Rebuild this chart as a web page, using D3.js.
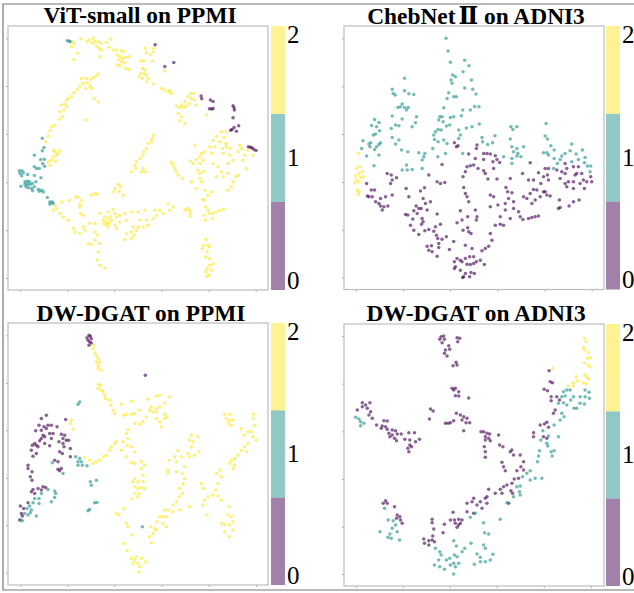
<!DOCTYPE html>
<html>
<head>
<meta charset="utf-8">
<script src="https://cdn.jsdelivr.net/npm/d3@7"></script>
<style>
  body { margin: 0; background: #fff; }
  svg { display: block; }
  text { font-family: "Liberation Serif", serif; fill: #000; }
</style>
</head>
<body>
<svg id="chart" width="634" height="593"></svg>
<script>
// class colours and colorbar
const classColors = ["#440154", "#21918c", "#fde725"];
const barLevels = [0, 1, 2];
const barLabelPos = [0.11, 1.5, 2.9];

// ViT-small on PPMI (embedding values)
const vit0 = [[495,199],[522,187],[604,288],[606,296],[632,300],[640,304],[629,326],[640,325],[636,327],[700,317],[703,323],[704,330],[700,353],[717,377],[703,382],[693,390],[697,388],[710,393],[746,440],[752,441],[757,443],[762,447],[769,451],[466,134]];
const vit1 = [[202,122],[208,124],[212,125],[127,414],[132,442],[127,452],[103,465],[122,478],[133,477],[128,490],[118,505],[110,505],[103,500],[134,498],[103,526],[123,533],[58,512],[66,512],[60,520],[70,518],[65,527],[83,523],[75,545],[82,543],[88,545],[75,552],[82,552],[90,553],[97,550],[63,558],[78,560],[85,563],[95,565],[103,560],[115,567],[125,570],[130,575],[118,573],[98,572],[108,545],[142,592],[150,605],[157,605],[150,612],[160,610]];
const vit2 = [[218,125],[222,130],[215,140],[233,160],[222,178],[243,116],[262,125],[268,120],[280,115],[285,125],[277,130],[295,125],[303,130],[290,138],[298,145],[305,150],[300,170],[320,127],[332,118],[327,142],[340,150],[350,150],[365,152],[372,155],[352,165],[360,170],[368,175],[378,172],[388,170],[355,180],[365,185],[375,188],[352,195],[360,198],[378,205],[388,208],
[437,145],[440,158],[462,145],[460,155],[452,165],[423,183],[432,182],[457,183],[495,213],[428,205],[435,210],[422,220],[432,220],[440,225],[418,230],[428,235],[445,235],[440,245],[460,252],[485,265],[495,270],[505,275],[515,280],[510,272],
[295,222],[288,228],[280,232],[272,238],[260,235],[245,235],[250,250],[262,248],[270,258],[258,265],[275,265],[240,258],[232,268],[222,278],[215,290],[205,295],[200,300],[195,312],[185,315],[200,320],[192,330],[180,335],[188,350],[178,357],[283,295],[295,305],[257,360],[165,375],[155,380],[150,392],[145,408],[138,425],
[572,280],[582,280],[565,290],[575,295],[585,300],[555,305],[570,310],[545,315],[530,318],[540,322],[552,322],[560,318],[590,315],[620,345],[535,340],[545,350],[540,362],[555,370],
[180,452],[165,455],[175,460],[170,465],[160,470],[155,480],[168,483],[145,485],[150,495],[160,450],
[462,405],[458,415],[455,425],[445,430],[440,445],[432,455],[428,465],[420,475],[410,485],[405,495],[408,505],[395,515],[430,505],[425,515],[438,515],[515,487],[520,495],[525,505],[530,515],[535,525],[548,535],
[665,395],[680,395],[650,408],[672,412],[640,420],[660,425],[678,430],[585,435],[615,455],[630,440],[645,440],[668,445],[680,440],[690,445],[720,435],[725,445],[745,450],[635,460],[605,460],[600,470],[590,478],[572,483],[580,490],[600,490],[610,480],[670,460],[690,465],[715,455],[735,465],[760,465],[730,480],[595,510],[600,520],[612,515],[640,490],[655,500],[685,490],[700,480],[740,505],[665,515],[685,520],[710,530],[715,525],[575,545],[590,565],[605,545],[600,535],[670,530],[650,530],[700,545],[695,560],[685,570],[615,570],[625,585],[635,575],[608,597],
[615,600],[618,620],[625,630],[628,640],[613,645],[640,640],[650,635],[660,630],[672,628],[638,655],[617,660],[562,625],[570,630],[555,630],[572,640],[570,648],
[618,718],[612,735],[625,735],[607,745],[622,755],[630,740],[618,770],[630,775],[640,790],[630,795],[622,805],[635,810],[618,815],[628,825],[622,828],
[355,552],[362,558],[345,565],[342,575],[358,573],[370,585],[285,580],[292,582],[275,585],[235,590],[245,600],[228,590],[208,600],[185,605],[165,615],[170,625],[160,630],[180,640],[190,650],[205,660],[220,685],[225,695],[240,612],[242,640],[250,645],[240,620],
[300,640],[325,635],[340,628],[345,640],[315,650],[310,660],[325,655],[335,660],[350,650],[360,645],[375,640],[395,635],[415,635],[435,630],[312,672],[325,680],[345,675],[360,665],[380,660],[400,680],[415,680],[430,680],[445,675],[460,655],[470,645],[480,630],[490,640],[505,610],[520,620],[510,630],[465,630],[440,660],[420,660],[410,690],[395,695],[380,700],[402,705],[375,718],[395,715],[350,685],[270,670],[285,670],[250,680],[255,690],[285,695],[240,700],[292,705],[285,720],[265,730],[275,733],[300,730],[295,755],[292,780],[300,795],[315,803],[318,665],[328,668],[322,672],[332,648]];

// ChebNet II on ADNI3
const cheb0 = [[412,428],[423,437],[418,440],[480,435],[478,445],[455,462],[375,493],[500,460],[510,460],[520,462],[535,467],[540,478],[528,485],[548,487],[475,475],[500,478],[470,495],[460,497],[450,500],[445,515],[438,530],[440,562],[483,505],[500,512],[505,520],[530,505],[513,537],[540,537],[580,535],[640,488],[617,520],[635,540],[210,520],[222,525],[238,533],[225,540],[220,550],[148,550],[360,545],[370,550],[383,547],[335,525],[267,565],[322,563],[310,573],[162,570],[172,570],[150,588],[155,590],[165,590],[175,605],[185,610],[190,618],[200,620],[212,618],[195,630],[205,590],[190,595],[225,585],[275,590],[297,618],[305,625],[318,595],[325,610],[340,605],[330,630],[312,625],[290,632],[300,640],[265,643],[272,645],[287,657],[315,655],[318,665],[313,672],[280,675],[290,690],[305,703],[323,692],[335,688],[360,642],[370,672],[355,680],[350,693],[358,705],[362,715],[375,717],[388,710],[410,724],[330,738],[343,737],[335,750],[345,755],[365,730],[365,742],[360,768],[397,748],[430,632],[475,630],[452,650],[435,660],[420,668],[480,650],[478,660],[438,690],[452,683],[455,695],[462,700],[445,735],[465,745],[420,775],[412,785],[430,780],[415,800],[412,805],[435,785],[445,775],[458,770],[470,770],[478,785],[490,780],[502,793],[450,792],[460,793],[470,790],[430,810],[445,820],[462,817],[472,820],[458,830],[440,830],[437,832],[455,605],[450,590],[445,580],[520,585],[530,590],[520,620],[543,615],[567,562],[572,575],[585,578],[575,595],[565,610],[590,605],[590,625],[605,635],[565,630],[550,650],[580,655],[610,650],[618,658],[635,655],[645,652],[655,650],[665,648],[535,675],[550,672],[560,675],[520,700],[525,720],[515,738],[505,745],[495,752],[620,590],[630,595],[640,580],[650,568],[660,570],[655,600],[645,610],[680,575],[690,585],[670,590],[700,588],[685,575],[665,518],[695,505],[685,505],[680,530],[692,525],[650,540],[672,550],[695,540],[720,510],[745,490],[750,505],[735,515],[745,520],[770,500],[785,500],[780,520],[795,520],[800,540],[810,545],[822,530],[825,545],[730,535],[745,550],[755,545],[775,525],[770,545],[790,550],[750,560],[770,565],[803,565],[728,600],[725,625],[730,622],[757,618],[770,605],[787,600]];
const cheb1 = [[387,115],[393,153],[400,187],[443,181],[456,197],[438,215],[407,225],[415,230],[402,240],[405,250],[463,240],[262,235],[225,268],[262,272],[228,280],[234,285],[275,281],[290,283],[395,278],[410,290],[418,290],[390,295],[443,264],[467,268],[477,282],[242,322],[250,320],[255,312],[262,322],[273,322],[268,330],[380,323],[486,320],[473,319],[460,330],[437,330],[433,347],[410,350],[400,352],[375,350],[368,350],[365,360],[378,365],[225,348],[255,357],[235,375],[245,377],[222,385],[298,350],[295,368],[285,380],[172,358],[185,367],[163,376],[178,380],[187,392],[175,402],[168,405],[160,428],[155,432],[190,428],[185,433],[178,440],[172,448],[185,465],[158,440],[137,422],[133,445],[148,468],[170,497],[225,412],[245,420],[235,432],[398,375],[388,378],[372,390],[363,388],[355,395],[350,405],[352,418],[347,445],[363,425],[380,420],[390,430],[425,390],[430,405],[425,415],[448,384],[465,380],[487,372],[495,412],[497,425],[512,433],[527,428],[534,407],[253,450],[272,455],[305,458],[323,460],[320,470],[315,480],[315,505],[268,495],[255,510],[270,510],[285,508],[362,470],[385,460],[437,460],[582,380],[600,380],[588,388],[580,417],[585,440],[600,445],[620,440],[590,455],[603,460],[612,470],[600,468],[585,490],[585,475],[560,470],[688,370],[685,408],[692,417],[702,437],[712,450],[690,458],[680,458],[695,465],[712,475],[735,468],[745,460],[760,452],[765,432],[778,462],[797,450],[805,472],[765,485],[785,478],[730,478],[722,490],[710,505],[803,488],[812,498],[822,498],[820,515]];
const cheb2 = [[123,460],[128,500],[118,505],[135,515],[125,520],[115,528],[130,533],[118,540],[125,545],[112,548],[120,570],[125,575],[123,583],[138,530]];

// DW-DGAT on PPMI
const dgatP0 = [[268,115],[272,118],[262,122],[275,125],[265,130],[270,135],[275,138],[268,145],[437,235],[140,355],[125,365],[118,385],[108,402],[145,385],[155,385],[133,390],[140,395],[125,400],[172,390],[198,368],[130,415],[125,425],[135,420],[150,410],[160,410],[120,432],[105,440],[98,445],[110,445],[115,450],[95,460],[110,470],[100,478],[150,447],[135,440],[155,425],[185,412],[195,415],[190,425],[200,430],[207,430],[178,435],[190,440],[193,450],[180,465],[188,470],[212,455],[212,480],[165,490],[175,495],[85,505],[85,515],[97,525],[92,540],[97,550],[175,517],[185,515],[180,522],[130,570],[138,572],[125,580],[115,575],[100,578],[95,585],[105,590],[85,618],[62,628],[72,635],[65,650],[68,658],[60,670]];
const dgatP1 = [[235,322],[240,315],[228,480],[240,485],[235,495],[245,495],[248,505],[235,505],[262,507],[158,498],[190,530],[272,555],[275,565],[290,550],[285,618],[292,617],[265,642],[270,638],[428,690],[145,578],[165,583],[168,590],[125,590],[105,605],[118,605],[100,618],[118,620],[165,602],[155,615],[90,628],[82,635],[95,640],[75,650],[85,655],[92,648],[110,658],[62,670],[68,672]];
const dgatP2 = [[215,370],[212,380],[220,397],[283,145],[280,155],[285,168],[290,175],[295,185],[290,195],[300,195],[295,205],[305,220],[295,215],
[297,262],[302,265],[295,275],[305,280],[310,285],[315,295],[318,305],[330,310],[333,325],[340,340],[345,350],[365,322],[395,313],[445,307],[470,297],[480,295],[510,300],[495,318],[480,330],[470,335],[455,330],[450,340],[460,345],[470,345],[495,352],[502,360],[470,365],[495,365],[480,375],[485,390],[440,360],[430,375],[420,382],[405,380],[420,340],[405,350],[395,352],[380,352],[372,355],[385,398],[380,410],[370,435],[385,425],[350,435],[345,440],[335,450],[330,460],[320,475],[312,480],[300,490],[290,495],[280,500],[270,490],[255,482],[382,445],[365,460],[380,480],[395,450],[405,465],[395,497],[405,500],[425,495],[435,505],[425,515],[430,535],[405,545],[400,555],[415,555],[430,555],[405,570],[415,575],[425,572],[435,575],[418,590],[405,590],[395,607],[415,600],[350,650],[358,655],[372,635],[380,680],[385,690],[397,715],[372,740],[382,762],[395,785],[405,790],[410,780],[425,785],[400,800],[415,800],[420,810],[418,825],[438,795],
[575,415],[595,420],[570,430],[580,435],[575,450],[597,465],[565,470],[535,462],[508,490],[505,520],[525,480],[530,495],[545,480],[570,480],[585,475],[555,510],[530,525],[548,530],[505,530],[555,545],[550,560],[540,575],[548,590],[538,600],[530,615],[520,625],[505,640],[495,640],[480,660],[490,660],[500,660],[520,645],[540,640],[570,630],[472,675],[490,680],[500,690],[465,695],[460,710],[450,720],[455,738],[470,700],[452,690],
[605,560],[612,575],[660,520],[650,530],[665,540],[655,560],[648,580],[640,595],[625,600],[655,598],[665,610],[615,610],[610,625],[622,655],[688,630],[685,655],[695,660],[700,675],[690,685],[665,680],[675,683],[700,700],[675,705],[688,720],
[675,352],[690,352],[680,365],[690,370],[700,370],[685,380],[695,385],[762,352],[760,365],[765,385],[725,395],[745,405],[755,405],[735,415],[760,420],[770,430],[745,440],[735,450],[725,460],[740,465],[715,475],[705,485],[695,490],[690,500],[705,505],[700,515]];

// DW-DGAT on ADNI3
const dgatA0 = [[372,120],[380,118],[368,128],[382,128],[375,138],[420,123],[428,125],[422,135],[395,147],[398,158],[385,160],[382,170],[390,178],[417,197],[408,207],[420,205],[697,222],[700,255],[707,258],[682,278],[692,282],[703,300],[703,312],[720,300],[728,310],[405,275],[415,275],[410,280],[425,285],[415,297],[425,298],[455,304],[135,318],[158,318],[145,325],[135,330],[150,335],[120,340],[160,345],[155,355],[165,365],[340,337],[348,343],[337,367],[418,350],[430,355],[440,360],[435,370],[450,365],[458,378],[447,378],[410,372],[400,378],[385,380],[393,380],[440,402],[178,385],[200,372],[210,373],[195,388],[205,390],[192,395],[210,398],[225,400],[235,402],[240,412],[215,410],[225,415],[252,412],[218,420],[232,425],[238,432],[263,428],[275,408],[292,408],[278,430],[295,435],[307,428],[278,445],[283,450],[272,455],[275,465],[492,405],[500,405],[510,410],[518,412],[505,420],[515,425],[505,430],[520,432],[545,415],[502,450],[505,465],[505,482],[548,445],[558,450],[585,460],[555,497],[560,510],[565,522],[580,465],[590,475],[610,475],[620,495],[612,510],[600,522],[620,520],[592,547],[605,545],[585,560],[560,570],[550,578],[535,590],[515,578],[570,565],[582,582],[587,590],[555,590],[575,620],[510,600],[505,605],[510,620],[490,615],[470,605],[465,615],[480,625],[450,620],[495,635],[450,645],[470,650],[205,612],[198,620],[210,620],[232,630],[240,655],[248,660],[238,665],[250,670],[255,680],[345,668],[345,678],[350,697],[408,647],[400,670],[412,670],[425,668],[435,670],[415,680],[425,685],[430,680],[420,692],[382,683],[347,718],[320,727],[335,732],[345,730],[322,740],[335,745],[352,735],[378,708],[650,408],[650,420],[670,385],[683,382],[690,377],[695,392],[710,350],[715,340],[680,420],[690,425]];
const dgatA1 = [[740,285],[745,298],[750,280],[760,280],[805,280],[817,287],[735,300],[770,300],[790,300],[805,300],[818,305],[725,320],[740,318],[750,325],[762,310],[790,320],[780,335],[803,322],[772,335],[735,350],[742,360],[730,370],[712,385],[678,402],[695,418],[725,420],[672,430],[690,440],[693,448],[668,462],[703,465],[712,462],[706,478],[665,478],[662,495],[630,530],[640,522],[617,540],[640,550],[655,545],[675,545],[610,568],[600,570],[608,585],[590,600],[610,595],[570,618],[550,668],[475,650],[460,662],[202,635],[115,362],[125,367],[130,375],[140,380],[130,387],[213,670],[228,672],[235,685],[225,695],[240,705],[188,705],[218,712],[212,722],[222,725],[247,730],[500,678],[503,708],[515,712],[500,745],[505,755],[462,740],[410,732],[418,748],[443,755],[435,765],[355,755],[368,765],[372,775],[352,805],[365,790],[368,810],[382,818],[388,790],[398,785],[412,775],[420,780],[400,805],[410,800],[425,800],[415,810],[410,832],[472,803],[480,772],[490,782],[490,795],[505,795],[520,790],[528,773]];
const dgatA2 = [[803,125],[808,135],[800,152],[805,160],[815,168],[820,183],[812,185],[803,198],[815,205],[820,210],[707,215],[778,240],[805,235],[810,242],[815,247],[770,258],[755,268],[770,268],[800,258],[808,262],[782,252]];

// tick values on the hidden axes
const vitX = [60,202,343,485,627,768], vitY = [115,258,401,546,690,833];
const chebX = [116,257,399,541,683,825], chebY = [115,259,402,546,689,832];
const dgatPX = [62,203,344,486,628,769], dgatPY = [115,258,400,543,685,828];
const dgatAX = [116,257,398,539,681,823], dgatAY = [118,261,404,547,690,832];

const panels = [
  { title: ["ViT-small on PPMI"], tx: 140, ty: 23, left: 8, right: 268, top: 26, bottom: 290, barX: 271,
    xDom: [24,805], yDom: [78,869], xTicks: vitX, yTicks: vitY, series: [vit0, vit1, vit2] },
  { title: ["ChebNet", "\u2161", " on ADNI3"], tx: 476, ty: 24, left: 344, right: 604, top: 26, bottom: 289.5, barX: 606,
    xDom: [80,862], yDom: [78,868], xTicks: chebX, yTicks: chebY, series: [cheb0, cheb1, cheb2] },
  { title: ["DW-DGAT on PPMI"], tx: 141, ty: 321, left: 8, right: 268, top: 323, bottom: 585, barX: 271,
    xDom: [25,805], yDom: [78,865], xTicks: dgatPX, yTicks: dgatPY, series: [dgatP0, dgatP1, dgatP2] },
  { title: ["DW-DGAT on ADNI3"], tx: 476, ty: 321, left: 344, right: 604, top: 324, bottom: 586, barX: 606,
    xDom: [80,862], yDom: [82,868], xTicks: dgatAX, yTicks: dgatAY, series: [dgatA0, dgatA1, dgatA2] }
];

const svg = d3.select("#chart");

// slight softness of the scanned figure
svg.append("defs").append("filter")
    .attr("id", "soft")
  .append("feGaussianBlur")
    .attr("stdDeviation", 0.3);

// page border of the pasted figure
svg.append("path")
  .attr("d", "M634,4H3V590H634")
  .attr("fill", "none")
  .attr("stroke", "#777")
  .attr("stroke-width", 1.2);

panels.forEach(drawPanel);

function drawPanel(p) {
  const x = d3.scaleLinear().domain(p.xDom).range([p.left, p.right]);
  const y = d3.scaleLinear().domain(p.yDom).range([p.top, p.bottom]);
  const g = svg.append("g");

  // axes, ticks only
  g.append("g")
    .attr("transform", `translate(0,${p.bottom})`)
    .call(d3.axisBottom(x).tickValues(p.xTicks).tickFormat("").tickSize(2).tickSizeOuter(0))
    .call(a => a.select(".domain").remove())
    .call(a => a.selectAll("line").attr("stroke", "#aaa"));
  g.append("g")
    .attr("transform", `translate(${p.left},0)`)
    .call(d3.axisLeft(y).tickValues(p.yTicks).tickFormat("").tickSize(2).tickSizeOuter(0))
    .call(a => a.select(".domain").remove())
    .call(a => a.selectAll("line").attr("stroke", "#aaa"));

  // points
  p.series.forEach((pts, i) => {
    g.append("g")
      .attr("filter", "url(#soft)")
      .selectAll("circle")
      .data(pts)
      .join("circle")
        .attr("cx", d => x(d[0]))
        .attr("cy", d => y(d[1]))
        .attr("r", 1.75)
        .attr("fill", classColors[i])
        .attr("fill-opacity", 0.62);
  });

  // frame
  g.append("rect")
    .attr("x", p.left)
    .attr("y", p.top)
    .attr("width", p.right - p.left)
    .attr("height", p.bottom - p.top)
    .attr("fill", "none")
    .attr("stroke", "#bdbdbd")
    .attr("stroke-width", 1.2);

  // colorbar
  const c = d3.scaleLinear().domain([0, 3]).range([p.bottom, p.top]);
  g.append("g")
    .selectAll("rect")
    .data(barLevels)
    .join("rect")
      .attr("x", p.barX)
      .attr("y", d => c(d + 1))
      .attr("width", 14)
      .attr("height", d => c(d) - c(d + 1))
      .attr("fill", d => classColors[d])
      .attr("fill-opacity", 0.5);

  g.append("g")
    .selectAll("text")
    .data(barLevels)
    .join("text")
      .attr("x", p.barX + 16)
      .attr("y", d => c(barLabelPos[d]))
      .attr("dy", "0.33em")
      .style("font-size", "25px")
      .text(d => d);

  // title
  const t = g.append("text")
    .attr("x", p.tx)
    .attr("y", p.ty)
    .attr("text-anchor", "middle")
    .style("font-size", "23.4px")
    .style("font-weight", "bold")
    .style("white-space", "pre");
  t.selectAll("tspan")
    .data(p.title)
    .join("tspan")
      .style("font-family", d => d === "\u2161" ? '"DejaVu Serif"' : null)
      .attr("dx", d => d === "\u2161" ? 3 : null)
      .text(d => d);
}
</script>
</body>
</html>
